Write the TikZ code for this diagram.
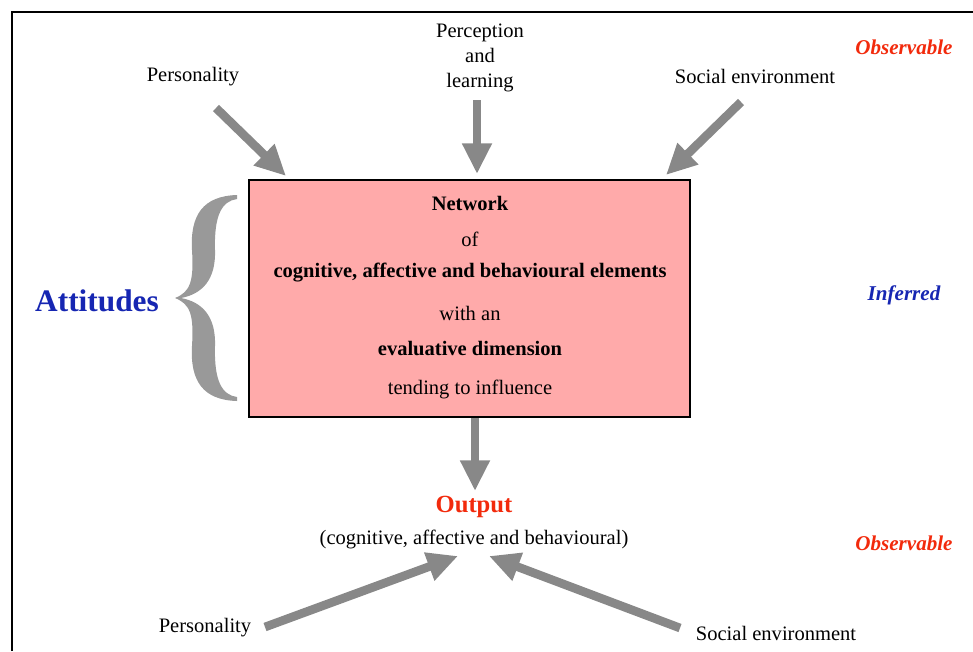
\documentclass[tikz,border=0pt]{standalone}
\usepackage{fontspec}
\setmainfont{Liberation Serif}
\usetikzlibrary{arrows.meta}

\definecolor{boxpink}{RGB}{255,170,170}
\definecolor{arrowgray}{RGB}{136,136,136}
\definecolor{bracegray}{RGB}{153,153,153}
\definecolor{obsred}{RGB}{242,42,12}
\definecolor{infblue}{RGB}{22,38,178}

\tikzset{
  fatarrow/.style={arrowgray, line width=6.5pt, -{Triangle[width=21pt,length=23pt]}},
  txt/.style={font=\fontsize{15.4}{18.75}\selectfont, align=center, inner sep=0pt},
  boldtxt/.style={txt, font=\fontsize{15.4}{18.75}\selectfont\bfseries},
  level/.style={font=\fontsize{15.8}{17}\selectfont\bfseries\itshape, inner sep=0pt}
}

\begin{document}
\begin{tikzpicture}[x=0.75pt, y=-0.75pt]
  \useasboundingbox (0,0) rectangle (973,651);
  % open frame, cut at right and bottom
  \draw[line width=2pt] (12,651) -- (12,12) -- (973,12);

  % central box with its lines of text
  \node (box) [draw, line width=1.5pt, fill=boxpink, minimum width=330.75pt,
    minimum height=177.75pt] at (469.5,298.5) {};
  \node (network) [boldtxt] at (470,203) {Network};
  \node (of) [txt] at (470,239) {of};
  \node (elements) [boldtxt] at (470,273) {cognitive, affective and behavioural elements};
  \node (withan) [txt] at (470,313) {with an};
  \node (evaluative) [boldtxt] at (470,348) {evaluative dimension};
  \node (tending) [txt] at (470,389) {tending to influence};

  % inputs above
  \node (persTop) [txt] at (193,77) {Personality};
  \node (percep) [txt] at (480,58) {Perception\\and\\learning};
  \node (socTop) [txt] at (755,76) {Social environment};
  \coordinate (persTail) at (216,108);
  \coordinate (persTip) at (286,176);
  \coordinate (percTail) at (477,100);
  \coordinate (percTip) at (477,174);
  \coordinate (socTail) at (741,102);
  \coordinate (socTip) at (666,175);
  \draw[fatarrow] (persTail) -- (persTip);
  \draw[fatarrow] (percTail) -- (percTip);
  \draw[fatarrow] (socTail) -- (socTip);

  % attitudes and the brace
  \node (attitudes) [infblue, font=\fontsize{23.5}{26}\selectfont\bfseries, inner sep=0pt]
    at (97,301) {Attitudes};
  \fill[bracegray] (237,195) .. controls (203,196) and (190,215) .. (192,250)
    .. controls (194,282) and (190,292) .. (175,298)
    .. controls (190,304) and (194,314) .. (192,346)
    .. controls (190,381) and (203,400) .. (237,401)
    -- (237,397) .. controls (222,395) and (214,381) .. (215,346)
    .. controls (216,316) and (202,302) .. (181,298)
    .. controls (202,294) and (216,280) .. (215,250)
    .. controls (214,215) and (222,201) .. (237,199) -- cycle;

  % output below
  \coordinate (outTail) at (475,418);
  \node (output) [obsred, font=\fontsize{18.5}{20}\selectfont\bfseries, inner sep=0pt]
    at (474,507) {Output};
  \node (kinds) [txt] at (474,539) {(cognitive, affective and behavioural)};
  \draw[fatarrow] (outTail) -- (475,491);

  % inputs below
  \node (persBot) [txt] at (205,628) {Personality};
  \node (socBot) [txt] at (776,633) {Social environment};
  \coordinate (persBotTail) at (265,627);
  \coordinate (persBotTip) at (458,556);
  \coordinate (socBotTail) at (680,628);
  \coordinate (socBotTip) at (489,556);
  \draw[fatarrow] (persBotTail) -- (persBotTip);
  \draw[fatarrow] (socBotTail) -- (socBotTip);

  % levels
  \node (obsTop) [level, obsred] at (904,47) {Observable};
  \node (inferred) [level, infblue] at (904,295) {Inferred};
  \node (obsBot) [level, obsred] at (904,543) {Observable};
\end{tikzpicture}
\end{document}
